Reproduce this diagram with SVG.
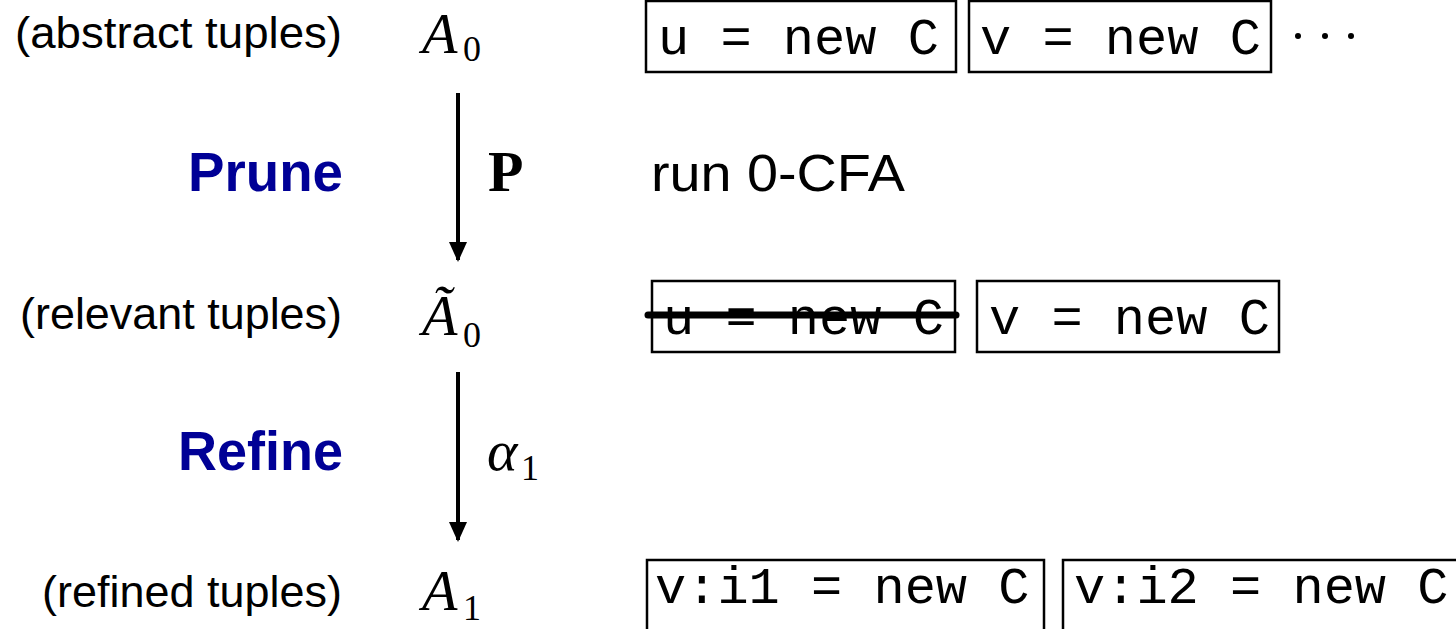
<svg xmlns="http://www.w3.org/2000/svg" width="1456" height="629" viewBox="0 0 1456 629">
  <defs>
    <style>
      .lbl { font-family: "Liberation Sans", Arial, sans-serif; font-size: 45px; fill: #000; }
      .step { font-family: "Liberation Sans", Arial, sans-serif; font-size: 56px; font-weight: bold; fill: #000096; }
      .math { font-family: "Liberation Serif", "Times New Roman", serif; font-style: italic; font-size: 58px; fill: #000; }
      .sub { font-family: "Liberation Serif", "Times New Roman", serif; font-size: 36px; fill: #000; }
      .code { font-family: "Liberation Mono", "Courier New", monospace; font-size: 52px; fill: #000; }
      .box { fill: none; stroke: #000; stroke-width: 2.5; }
      .note { font-family: "Liberation Sans", Arial, sans-serif; font-size: 52px; fill: #000; }
      .arrow { stroke: #000; stroke-width: 4; fill: none; }
    </style>
    <marker id="head" viewBox="0 0 20 18" refX="18" refY="9" markerWidth="20" markerHeight="18" markerUnits="userSpaceOnUse" orient="auto">
      <path d="M0,0 L20,9 L0,18 Z" fill="#000"/>
    </marker>
  </defs>

  <!-- row labels -->
  <g id="label-abstract">
    <text class="lbl" x="342" y="48" text-anchor="end" textLength="327" lengthAdjust="spacingAndGlyphs">(abstract tuples)</text>
  </g>
  <g id="label-relevant">
    <text class="lbl" x="342" y="329" text-anchor="end" textLength="322" lengthAdjust="spacingAndGlyphs">(relevant tuples)</text>
  </g>
  <g id="label-refined">
    <text class="lbl" x="342" y="607" text-anchor="end" textLength="300" lengthAdjust="spacingAndGlyphs">(refined tuples)</text>
  </g>
  <g id="step-prune">
    <text class="step" x="343" y="191" text-anchor="end" textLength="155" lengthAdjust="spacingAndGlyphs">Prune</text>
  </g>
  <g id="step-refine">
    <text class="step" x="343" y="470" text-anchor="end" textLength="165" lengthAdjust="spacingAndGlyphs">Refine</text>
  </g>

  <!-- abstraction symbols -->
  <g id="sym-A0">
    <text class="math" x="422" y="53">A</text>
    <text class="sub" x="463" y="61">0</text>
  </g>
  <g id="sym-A0-tilde">
    <text class="math" x="422" y="335">Ã</text>
    <text class="sub" x="463" y="347">0</text>
  </g>
  <g id="sym-A1">
    <text class="math" x="422" y="610">A</text>
    <text class="sub" x="463" y="620">1</text>
  </g>

  <!-- connectors -->
  <g id="connectors">
    <line class="arrow" x1="458" y1="93" x2="458" y2="260" marker-end="url(#head)"/>
    <line class="arrow" x1="458" y1="372" x2="458" y2="540" marker-end="url(#head)"/>
    <text x="488" y="191" font-family="Liberation Serif, serif" font-weight="bold" font-size="58" fill="#000">P</text>
    <text x="487" y="470" font-family="Liberation Serif, serif" font-style="italic" font-size="58" fill="#000">α</text>
    <text class="sub" x="521" y="480">1</text>
  </g>

  <!-- row 1: abstract tuples -->
  <g id="tuple-u">
    <rect class="box" x="646" y="1" width="310" height="71"/>
    <text class="code" x="658" y="54">u = new C</text>
  </g>
  <g id="tuple-v">
    <rect class="box" x="969" y="1" width="302" height="71"/>
    <text class="code" x="980" y="54">v = new C</text>
  </g>
  <g id="ellipsis">
    <circle cx="1298" cy="36" r="3"/>
    <circle cx="1325" cy="36" r="3"/>
    <circle cx="1351" cy="36" r="3"/>
  </g>

  <!-- prune note -->
  <g id="note-0cfa">
    <text class="note" x="651" y="191" textLength="254" lengthAdjust="spacingAndGlyphs">run 0-CFA</text>
  </g>

  <!-- row 2: relevant tuples -->
  <g id="tuple-u-pruned">
    <rect class="box" x="652" y="281" width="303" height="71"/>
    <text class="code" x="663" y="334">u = new C</text>
    <line x1="648" y1="315" x2="956" y2="315" stroke="#000" stroke-width="7" stroke-linecap="round"/>
  </g>
  <g id="tuple-v-relevant">
    <rect class="box" x="977" y="281" width="302" height="71"/>
    <text class="code" x="989" y="334">v = new C</text>
  </g>

  <!-- row 3: refined tuples -->
  <g id="tuple-v-i1">
    <rect class="box" x="647" y="560" width="397" height="80"/>
    <text class="code" x="655" y="603">v:i1 = new C</text>
  </g>
  <g id="tuple-v-i2">
    <rect class="box" x="1063" y="560" width="400" height="80"/>
    <text class="code" x="1074" y="603">v:i2 = new C</text>
  </g>
</svg>
